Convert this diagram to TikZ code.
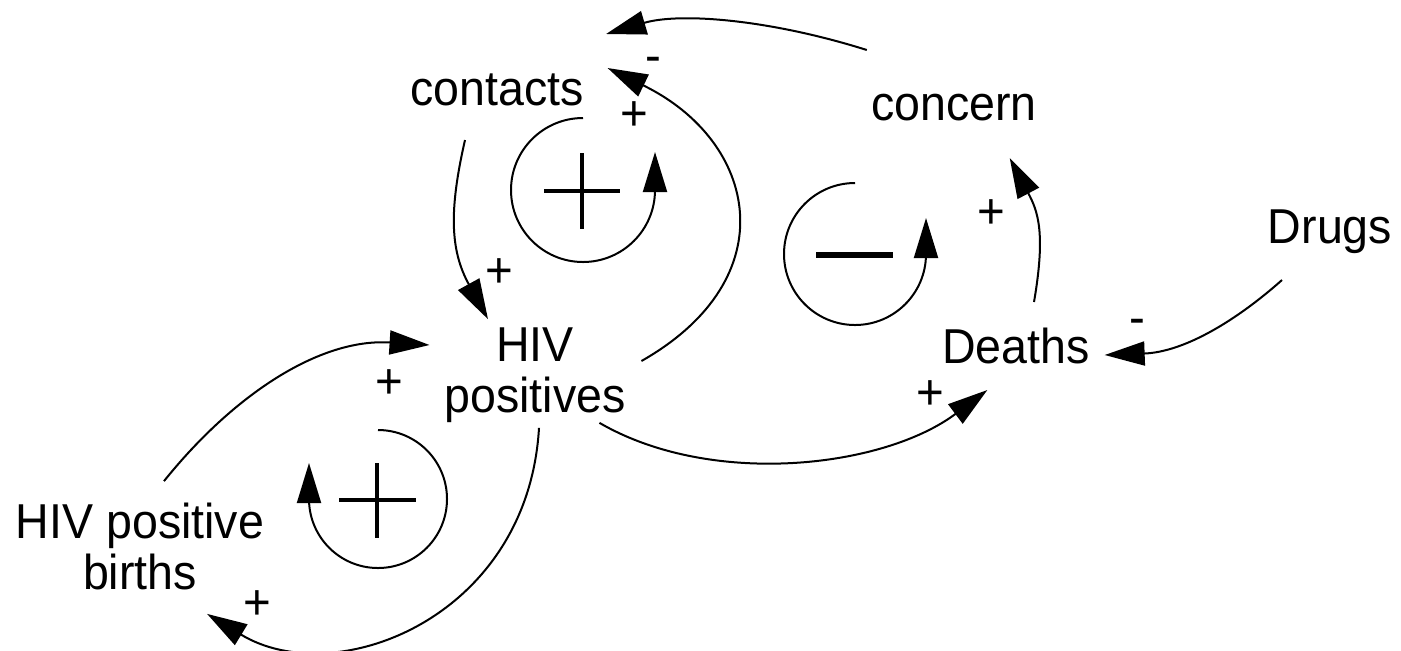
\documentclass[tikz,border=0pt]{standalone}
\usepackage{fontspec}
\setmainfont{Liberation Sans}[FakeStretch=0.95]
\usetikzlibrary{arrows.meta,calc}

\begin{document}
\begin{tikzpicture}[x=0.5pt,y=-0.5pt]
\tikzstyle{var} = [inner sep=0pt, align=center, font=\fontsize{24.5pt}{25.5pt}\selectfont]
\tikzstyle{pol} = [inner sep=0pt, font=\fontsize{25pt}{26pt}\selectfont]
\tikzstyle{link} = [line width=1pt, -{Triangle[length=20pt,width=12pt]}]
\tikzstyle{sign} = [line width=2pt]
\useasboundingbox (0,0) rectangle (1401,650);
\node[var, anchor=base] (contacts) at (497,105) {contacts};
\node[var, anchor=base] (concern) at (954,120) {concern};
\node[var, anchor=base] (drugs) at (1330,243) {Drugs};
\node[var, anchor=base] (deaths) at (1016,363) {Deaths};
\node[var] (hivpos) at (535,375) {HIV\\positives};
\node[var] (births) at (140,546) {HIV positive\\births};
\draw[link] ([shift={(-4,-70)}]concern.base west) .. controls +(-95,-30) and +(75,-22) .. ([shift={(22,-71)}]contacts.base east);
\draw[link] ([shift={(15.5,-14)}]hivpos.east) .. controls +(146,-83) and +(150,73) .. ([shift={(23.5,-37)}]contacts.base east);
\draw[link] ([shift={(-32,35)}]contacts.base) .. controls +(-16,70) and +(-38,-69) .. ([shift={(-47,-8)}]hivpos.north);
\draw[link] ([shift={(24,-21)}]births.north) .. controls +(69,-86) and +(-110,-7) .. ([shift={(-14.5,-30)}]hivpos.west);
\draw[link] ([shift={(4,5)}]hivpos.south) .. controls +(-11,190) and +(128,78) .. ([shift={(-57.5,24)}]births.south east);
\draw[link] ([shift={(-26.5,0)}]hivpos.south east) .. controls +(112,65) and +(-104,78) .. ([shift={(45.5,27)}]deaths.base west);
\draw[link] ([shift={(18,-61)}]deaths.base) .. controls +(12,-70) and +(28,53) .. ([shift={(-27.5,38)}]concern.base east);
\draw[link] ([shift={(-48,37)}]drugs.base) .. controls +(-45,40) and +(80,-3) .. ([shift={(14.5,-8)}]deaths.base east);
\node[pol] (m1) at (653,65) {-};
\node[pol] (p1) at (634,116) {+};
\node[pol] (p2) at (499,273) {+};
\node[pol] (p3) at (389,384) {+};
\node[pol] (p4) at (257,605) {+};
\node[pol] (p5) at (930,395) {+};
\node[pol] (p6) at (991,214) {+};
\node[pol] (m2) at (1137,327) {-};
% loops
\draw[link] (583,118) arc[start angle=270, end angle=0, radius=72] -- ++(0,-38);
\draw[sign] (544,191) -- (620,191) (582,153) -- (582,229);
\draw[link] (855,183) arc[start angle=270, end angle=0, radius=71] -- ++(0,-36);
\draw[sign, line width=3pt] (816,255) -- (893,255);
\draw[link] (378,430) arc[start angle=270, end angle=540, radius=69] -- ++(0,-36);
\draw[sign] (339,500) -- (416,500) (377,463) -- (377,538);
\end{tikzpicture}
\end{document}
